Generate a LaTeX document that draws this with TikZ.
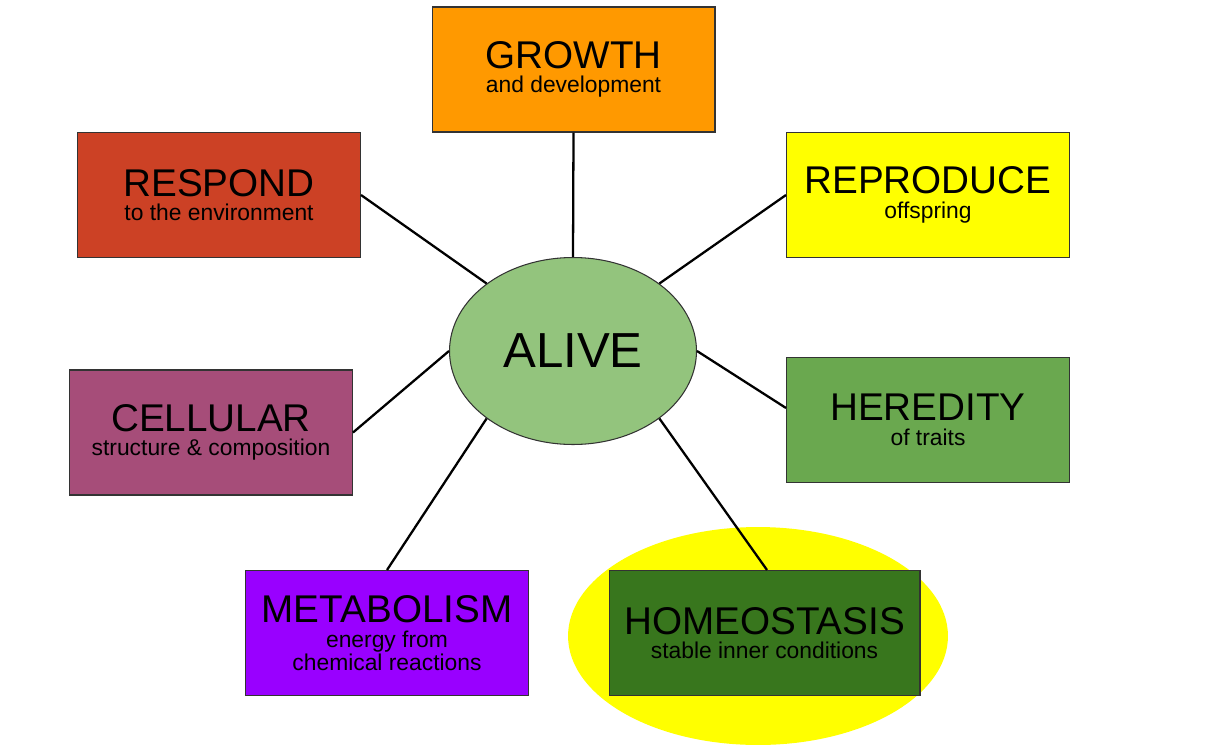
\documentclass[tikz,border=0pt]{standalone}
\usepackage{fontspec}
\setmainfont{Liberation Sans}
\usetikzlibrary{shapes.geometric}
\definecolor{cgrowth}{HTML}{FF9900}
\definecolor{crespond}{HTML}{CC4125}
\definecolor{creproduce}{HTML}{FFFF00}
\definecolor{ccellular}{HTML}{A64D79}
\definecolor{cheredity}{HTML}{6AA84F}
\definecolor{cmetabolism}{HTML}{9900FF}
\definecolor{chomeo}{HTML}{38761D}
\definecolor{calive}{HTML}{93C47D}
\newcommand{\subfont}{\fontsize{13}{15}\selectfont}
\newcommand{\trait}[2]{\fontsize{22}{25}\selectfont #1\\[2pt]\subfont #2}
\begin{document}
\begin{tikzpicture}[x=0.02cm,y=-0.02cm,
  traitbox/.style={draw=black!80, line width=0.6pt, minimum width=5.66cm, minimum height=2.5cm, align=center, inner sep=0pt},
  link/.style={line width=1.3pt}]
\useasboundingbox (0,0) rectangle (1212,750);
% Highlight behind homeostasis
\fill[creproduce] (758,636) ellipse [x radius=3.8cm, y radius=2.18cm];
% Boxes
\node[traitbox, fill=cgrowth] (growth) at (573.5,69.5) {\trait{GROWTH}{and development}};
\node[traitbox, fill=crespond] (respond) at (219,195) {\trait{RESPOND}{to the environment}};
\node[traitbox, fill=creproduce] (reproduce) at (928,195) {\trait{REPRODUCE}{offspring}};
\node[traitbox, fill=ccellular] (cellular) at (211,432.5) {\trait{CELLULAR}{structure \& composition}};
\node[traitbox, fill=cheredity] (heredity) at (928,420) {\trait{HEREDITY}{of traits}};
\node[traitbox, fill=cmetabolism] (metabolism) at (387,633) {\trait{METABOLISM}{energy from\\\subfont chemical reactions}};
\node[traitbox, fill=chomeo, minimum width=6.22cm] (homeostasis) at (764.5,633) {\trait{HOMEOSTASIS}{stable inner conditions}};
% Centre
\node[ellipse, draw=black!80, line width=0.6pt, fill=calive, minimum width=4.94cm, minimum height=3.74cm, font=\fontsize{28}{32}\selectfont] (alive) at (573,351) {ALIVE};
% Links
\draw[link] (growth.south) -- (alive.north);
\draw[link] (respond.east) -- (alive.142);
\draw[link] (reproduce.west) -- (alive.38);
\draw[link] (cellular.east) -- (alive.180);
\draw[link] ([yshift=0.24cm]heredity.west) -- (alive.east);
\draw[link] (metabolism.north) -- (alive.218);
\draw[link] ([xshift=0.05cm]homeostasis.north) -- (alive.322);
\end{tikzpicture}
\end{document}
